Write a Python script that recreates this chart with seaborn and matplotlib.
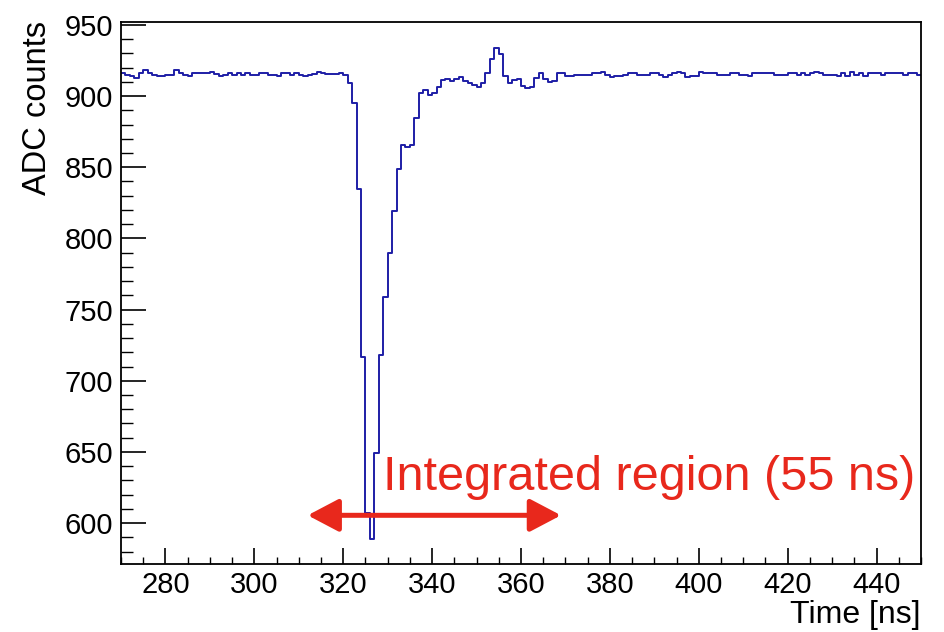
import numpy as np
import pandas as pd
import matplotlib
matplotlib.use("Agg")
import matplotlib.pyplot as plt
from matplotlib.ticker import MultipleLocator
import seaborn as sns

# ---- data (1 ns bins from 270 to 450 ns) ----
bin_start = 270
bin_width = 1
adc_counts = [
    # 270-279
    916.5, 915, 914, 913, 916, 918, 916, 915, 914, 914,
    # 280-289
    915, 915, 918, 916, 915, 914, 916, 916, 916, 916,
    # 290-299
    917, 915.5, 914, 915, 916, 915, 916, 915, 916, 915,
    # 300-309
    915, 916, 916, 915, 915, 914, 916, 916, 915, 916,
    # 310-319
    915, 914, 915, 915.5, 917, 916, 915.5, 915.5, 915.5, 916.5,
    # 320-329
    915, 909.5, 895.3, 834.6, 716.5, 607.4, 588.6, 649.4, 718.1, 758.6,
    # 330-339
    789.7, 818.9, 848.6, 865.6, 864.0, 865.6, 884.3, 901.9, 904.2, 900.7,
    # 340-349
    901.9, 906.3, 911.2, 911.9, 910.7, 911.9, 913.1, 910.7, 909.3, 907.7,
    # 350-359
    906.5, 909.3, 916.3, 925.9, 933.9, 929.2, 914.0, 909.3, 911.2, 911.9,
    # 360-369
    907.0, 905.4, 906.1, 912.4, 916.3, 911.9, 909.8, 910.5, 916.3, 916,
    # 370-379
    914, 914, 914.5, 914.5, 914.5, 915, 916, 916.5, 917, 915,
    # 380-389
    913.5, 914, 914, 914.5, 916, 916, 914.5, 914.5, 914.5, 916,
    # 390-399
    916, 915, 913.5, 914.5, 916.5, 917, 916, 913.5, 914, 914,
    # 400-409
    917, 916, 916, 916, 914.5, 915, 915, 916, 916, 915,
    # 410-419
    915, 914, 916.3, 916.3, 916.3, 916.3, 916, 914.5, 915, 915,
    # 420-429
    916, 916, 915, 916, 915, 916.3, 917, 916, 915, 915,
    # 430-439
    915, 914, 916.3, 914, 917, 914.5, 916, 914, 916, 916,
    # 440-449
    916, 915, 916, 916.3, 916, 916, 915, 916.3, 916, 915,
]
x_ticks = [280, 300, 320, 340, 360, 380, 400, 420, 440]
y_ticks = [600, 650, 700, 750, 800, 850, 900, 950]
annotation_text = "Integrated region (55 ns)"
region_start, region_end = 312, 369

n_bins = len(adc_counts)
centers = [bin_start + bin_width * (i + 0.5) for i in range(n_bins)]
df = pd.DataFrame({"time": centers, "adc": adc_counts})

# ---- style ----
sns.set_style("white")
plt.rcParams["font.family"] = ["Liberation Sans", "DejaVu Sans"]
plt.rcParams["text.color"] = "black"
plt.rcParams["axes.labelcolor"] = "black"
plt.rcParams["xtick.color"] = "black"
plt.rcParams["ytick.color"] = "black"

fig = plt.figure(figsize=(9.44, 6.32), dpi=100)
ax = fig.add_axes([121 / 944, 1 - 564 / 632, 800 / 944, 542 / 632])

sns.histplot(data=df, x="time", weights="adc", binwidth=bin_width,
             binrange=(bin_start, bin_start + n_bins * bin_width),
             element="step", fill=False, color="#1e1ea6", linewidth=1.4,
             ax=ax, zorder=2)

ax.set_xlim(270, 450)
ax.set_ylim(571.3, 952)

ax.set_xticks(x_ticks)
ax.set_yticks(y_ticks)
ax.xaxis.set_minor_locator(MultipleLocator(5))
ax.yaxis.set_minor_locator(MultipleLocator(10))

ax.tick_params(axis="both", which="both", direction="in", colors="black",
               labelcolor="black", labelsize=21, top=False, right=False)
ax.tick_params(axis="y", which="major", length=18, width=1.2, pad=5.5, left=True)
ax.tick_params(axis="y", which="minor", length=8.6, width=1.0, left=True)
ax.tick_params(axis="x", which="major", length=11.5, width=1.2, pad=5, bottom=True)
ax.tick_params(axis="x", which="minor", length=5, width=1.0, bottom=True)

for sp in ax.spines.values():
    sp.set_visible(True)
    sp.set_color("black")
    sp.set_linewidth(1.3)

ax.set_xlabel("Time [ns]", fontsize=23, loc="right", color="black")
ax.xaxis.set_label_coords(1.0, -0.066)
ax.set_ylabel("ADC counts", fontsize=23.5, loc="top", color="black")
ax.yaxis.set_label_coords(-0.085, 1.002)

red = "#e8281c"
ax.annotate("", xy=(region_start, 605.5), xytext=(region_end, 605.5),
            arrowprops=dict(arrowstyle="<|-|>,head_length=0.95,head_width=0.5",
                            mutation_scale=20, color=red, lw=3.6,
                            shrinkA=0, shrinkB=0),
            zorder=5)
ax.text(329, 623.5, annotation_text, color=red, fontsize=35,
        ha="left", va="baseline", zorder=5)

fig.savefig("out.png", dpi=100)
